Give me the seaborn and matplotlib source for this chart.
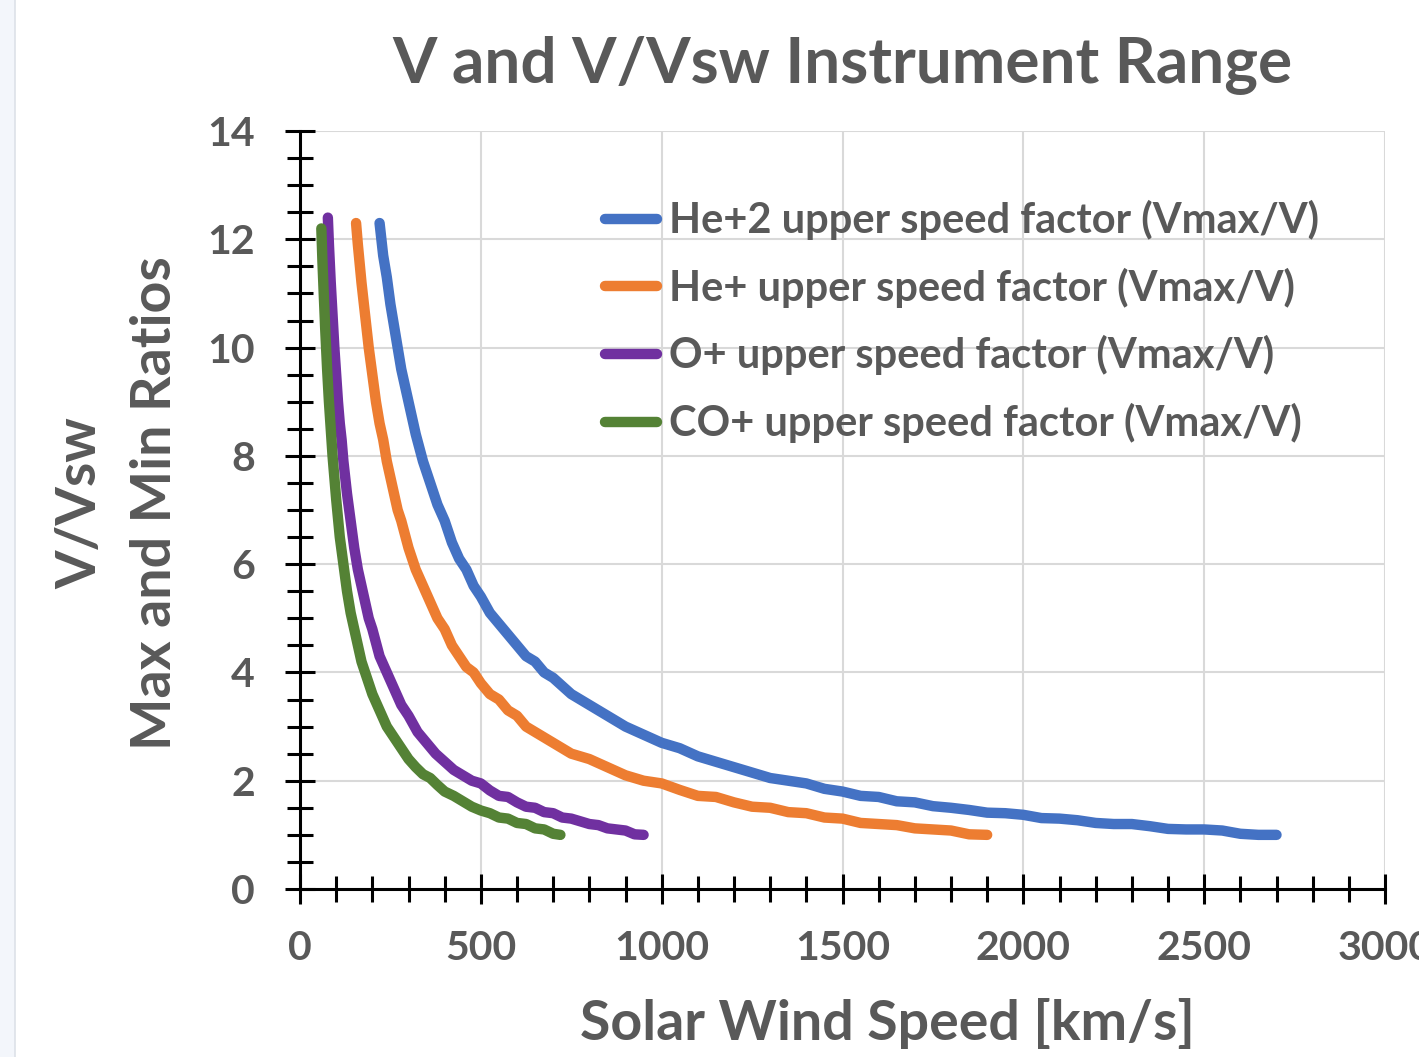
import matplotlib
matplotlib.use("Agg")
import matplotlib.pyplot as plt
from matplotlib.patches import Rectangle
from matplotlib.ticker import MultipleLocator
import seaborn as sns
import pandas as pd

# ---- data ----
he2_x = [220, 230, 240, 250, 260, 270, 280, 290, 300, 320, 340, 360, 380, 400, 420, 440, 460, 480,
         500, 525, 550, 575, 600, 625, 650, 675, 700, 750, 800, 850, 900, 950, 1000, 1050, 1100,
         1150, 1200, 1250, 1300, 1350, 1400, 1450, 1500, 1550, 1600, 1650, 1700, 1750, 1800, 1850,
         1900, 1950, 2000, 2050, 2100, 2150, 2200, 2250, 2300, 2350, 2400, 2450, 2500, 2550, 2600,
         2650, 2700]
he2_y = [12.3, 11.7, 11.3, 10.8, 10.4, 10.0, 9.6, 9.3, 9.0, 8.4, 7.9, 7.5, 7.1, 6.8, 6.4, 6.1, 5.9, 5.6,
         5.4, 5.1, 4.9, 4.7, 4.5, 4.3, 4.2, 4.0, 3.9, 3.6, 3.4, 3.2, 3.0, 2.85, 2.7, 2.6, 2.45,
         2.35, 2.25, 2.15, 2.05, 2.0, 1.95, 1.85, 1.8, 1.72, 1.7, 1.62, 1.6, 1.53, 1.5, 1.46,
         1.41, 1.4, 1.37, 1.31, 1.3, 1.27, 1.22, 1.2, 1.2, 1.16, 1.11, 1.1, 1.1, 1.08, 1.02,
         1.0, 1.0]

hep_x = [155, 160, 170, 180, 190, 200, 210, 220, 230, 240, 250, 260, 270, 280, 300, 320, 340, 360,
         380, 400, 420, 440, 460, 480, 500, 525, 550, 575, 600, 625, 650, 675, 700, 750, 800, 850,
         900, 950, 1000, 1050, 1100, 1150, 1200, 1250, 1300, 1350, 1400, 1450, 1500, 1550, 1600,
         1650, 1700, 1750, 1800, 1850, 1900]
hep_y = [12.3, 11.9, 11.2, 10.6, 10.0, 9.5, 9.0, 8.6, 8.3, 7.9, 7.6, 7.3, 7.0, 6.8, 6.3, 5.9, 5.6, 5.3,
         5.0, 4.8, 4.5, 4.3, 4.1, 4.0, 3.8, 3.6, 3.5, 3.3, 3.2, 3.0, 2.9, 2.8, 2.7, 2.5, 2.4, 2.25,
         2.1, 2.0, 1.95, 1.83, 1.72, 1.7, 1.6, 1.52, 1.5, 1.42, 1.4, 1.32, 1.3, 1.22, 1.2,
         1.18, 1.12, 1.1, 1.08, 1.01, 1.0]

op_x = [77, 80, 85, 90, 95, 100, 105, 110, 115, 120, 130, 140, 150, 160, 170, 180, 190, 200, 220,
        240, 260, 280, 300, 325, 350, 375, 400, 425, 450, 475, 500, 525, 550, 575, 600, 625, 650,
        675, 700, 725, 750, 775, 800, 825, 850, 875, 900, 925, 950]
op_y = [12.4, 11.9, 11.2, 10.6, 10.0, 9.5, 9.0, 8.6, 8.3, 7.9, 7.3, 6.8, 6.3, 5.9, 5.6, 5.3, 5.0, 4.8, 4.3,
        4.0, 3.7, 3.4, 3.2, 2.9, 2.7, 2.5, 2.35, 2.2, 2.1, 2.0, 1.95, 1.82, 1.72, 1.7, 1.6, 1.52, 1.5,
        1.42, 1.4, 1.32, 1.3, 1.25, 1.2, 1.18, 1.12, 1.1, 1.08, 1.01, 1.0]

cop_x = [59, 62, 65, 70, 75, 80, 85, 90, 95, 100, 110, 120, 130, 140, 150, 160, 170, 180, 190, 200,
         220, 240, 260, 280, 300, 320, 340, 360, 380, 400, 425, 450, 475, 500, 525, 550, 575, 600,
         625, 650, 675, 700, 720]
cop_y = [12.2, 11.6, 11.1, 10.3, 9.6, 9.0, 8.5, 8.0, 7.6, 7.2, 6.5, 6.0, 5.5, 5.1, 4.8, 4.5, 4.2, 4.0, 3.8, 3.6,
         3.3, 3.0, 2.8, 2.6, 2.4, 2.25, 2.12, 2.05, 1.92, 1.8, 1.72, 1.62, 1.52, 1.45, 1.4, 1.32, 1.3, 1.22,
         1.2, 1.12, 1.1, 1.02, 1.0]

series_names = ["He+2 upper speed factor (Vmax/V)", "He+ upper speed factor (Vmax/V)",
                "O+ upper speed factor (Vmax/V)", "CO+ upper speed factor (Vmax/V)"]
series_colors = ["#4472C4", "#ED7D31", "#7030A0", "#548235"]

x_ticks = [0, 500, 1000, 1500, 2000, 2500, 3000]
y_ticks = [0, 2, 4, 6, 8, 10, 12, 14]

frames = []
for name, xs, ys in zip(series_names, [he2_x, hep_x, op_x, cop_x], [he2_y, hep_y, op_y, cop_y]):
    frames.append(pd.DataFrame({"speed": xs, "ratio": ys, "series": name}))
df = pd.concat(frames, ignore_index=True)

# ---- styling ----
sns.set_theme(style="white")
plt.rcParams["font.family"] = ["Lato", "DejaVu Sans"]
W = "bold"
plt.rcParams["font.weight"] = W
TXT = "#595959"

fig = plt.figure(figsize=(14.19, 10.57), dpi=100)
fig.patch.set_facecolor("white")
fig.patches.append(Rectangle((0, 0), 15 / 1419, 1, transform=fig.transFigure,
                             facecolor="#F3F6FB", edgecolor="none", zorder=0))
fig.lines.append(plt.Line2D([15 / 1419, 15 / 1419], [0, 1], transform=fig.transFigure,
                            color="#DDE1E8", linewidth=1.2))

ax = fig.add_axes([300 / 1419, 1 - 889 / 1057, 1085 / 1419, 758 / 1057])

sns.lineplot(data=df, x="speed", y="ratio", hue="series", palette=series_colors,
             hue_order=series_names, estimator=None, sort=False, linewidth=7.5,
             ax=ax, solid_capstyle="round", solid_joinstyle="round")

ax.set_xlim(0, 3000)
ax.set_ylim(0, 14)
ax.set_xticks(x_ticks)
ax.set_yticks(y_ticks)
ax.xaxis.set_minor_locator(MultipleLocator(100))
ax.yaxis.set_minor_locator(MultipleLocator(0.5))
ax.grid(True, which="major", color="#D9D9D9", linewidth=1.5)
ax.set_axisbelow(True)
for s in ["top", "right"]:
    ax.spines[s].set_visible(False)
for s in ["left", "bottom"]:
    ax.spines[s].set_color("black")
    ax.spines[s].set_linewidth(2.2)

ax.tick_params(axis="both", which="both", bottom=True, left=True, top=False, right=False,
               direction="inout", width=2.2, color="black")
ax.tick_params(axis="both", which="major", length=21, labelsize=29.5, labelcolor=TXT)
ax.tick_params(axis="both", which="minor", length=19)
ax.tick_params(axis="x", which="major", pad=19)
ax.tick_params(axis="y", which="major", pad=22)
for lab in ax.get_xticklabels() + ax.get_yticklabels():
    lab.set_fontweight(W)

ax.set_xlabel("Solar Wind Speed [km/s]", fontsize=40, fontweight=W, color=TXT)
ax.xaxis.set_label_coords(0.541, -0.144)
ax.set_ylabel("V/Vsw\nMax and Min Ratios", fontsize=40, fontweight=W, color=TXT,
              linespacing=1.6)
ax.yaxis.set_label_coords(-0.111, 0.509)
fig.text(842 / 1419, 1 - 65 / 1057, "V and V/Vsw Instrument Range", ha="center", va="center",
         fontsize=46, fontweight=W, color=TXT)

leg = ax.legend(loc="upper left", bbox_to_anchor=(0.281, 0.909), frameon=False,
                fontsize=30, handlelength=1.25, handletextpad=0.3, labelspacing=0.66,
                borderpad=0, borderaxespad=0)
for t in leg.get_texts():
    t.set_color(TXT)
    t.set_fontweight(W)
for h in leg.get_lines():
    h.set_linewidth(7.5)
    h.set_solid_capstyle("round")

fig.savefig("out.png", dpi=100)
